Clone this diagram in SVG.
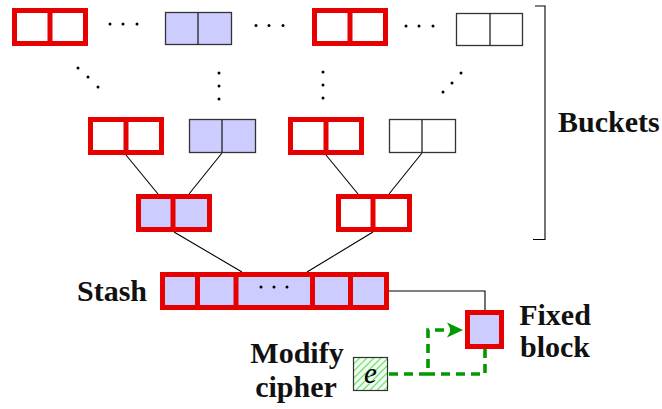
<svg xmlns="http://www.w3.org/2000/svg" width="662" height="409" viewBox="0 0 662 409">
<defs>
<style>
.red{fill:#fff;stroke:#e60000;stroke-width:5}
.redb{fill:#ccccff;stroke:#e60000;stroke-width:5}
.rdiv{stroke:#e60000;stroke-width:5}
.lb{fill:#ccccff;stroke:#333;stroke-width:1.3}
.lw{fill:#fff;stroke:#333;stroke-width:1.3}
.ldiv{stroke:#222;stroke-width:1.3}
.edge{stroke:#000;stroke-width:1.1;fill:none}
.dot{fill:#000}
.lbl{font-family:"Liberation Serif","Times New Roman",serif;font-weight:bold;font-size:30px;fill:#111}
.green{stroke:#009a00;stroke-width:3.6;fill:none;stroke-dasharray:9 6}
</style>
<pattern id="hatch" width="5" height="5" patternUnits="userSpaceOnUse" patternTransform="rotate(-45)">
<rect width="5" height="5" fill="#f4fff4"/>
<line x1="0" y1="2.5" x2="5" y2="2.5" stroke="#66dd66" stroke-width="1.2"/>
</pattern>
</defs>

<g id="connectors">
<line class="edge" x1="126" y1="155" x2="158" y2="194"/>
<line class="edge" x1="222" y1="153" x2="189" y2="194"/>
<line class="edge" x1="326" y1="155" x2="358" y2="194"/>
<line class="edge" x1="422" y1="153" x2="389" y2="194"/>
<line class="edge" x1="174" y1="232" x2="242" y2="272"/>
<line class="edge" x1="373" y1="232" x2="307" y2="272"/>
<path class="edge" d="M389,291 H485 V310"/>
<path class="green" d="M389,374 H428 V330 H452"/>
<path class="green" d="M485,349 V374 H428"/>
<polygon points="463,330 447,322.5 451,330 447,337.5" fill="#009a00"/>
</g>

<g id="r1-b1"><rect class="red" x="14.5" y="10.5" width="71" height="33"/><line class="rdiv" x1="50" y1="10" x2="50" y2="44"/></g>
<g id="r1-b2"><rect class="lb" x="165.5" y="12.5" width="66" height="32"/><line class="ldiv" x1="198" y1="12.5" x2="198" y2="44.5"/></g>
<g id="r1-b3"><rect class="red" x="314.5" y="10.5" width="71" height="33"/><line class="rdiv" x1="350" y1="10" x2="350" y2="44"/></g>
<g id="r1-b4"><rect class="lw" x="456.5" y="13.5" width="66" height="32"/><line class="ldiv" x1="490" y1="13.5" x2="490" y2="45.5"/></g>

<g id="r2-b1"><rect class="red" x="90.5" y="119.5" width="71" height="33"/><line class="rdiv" x1="126" y1="119" x2="126" y2="153"/></g>
<g id="r2-b2"><rect class="lb" x="189.5" y="119.5" width="66" height="33"/><line class="ldiv" x1="222" y1="119.5" x2="222" y2="152.5"/></g>
<g id="r2-b3"><rect class="red" x="290.5" y="119.5" width="71" height="33"/><line class="rdiv" x1="326" y1="119" x2="326" y2="153"/></g>
<g id="r2-b4"><rect class="lw" x="389.5" y="119.5" width="66" height="33"/><line class="ldiv" x1="422" y1="119.5" x2="422" y2="152.5"/></g>

<g id="r3-b1"><rect class="redb" x="138.5" y="196.5" width="71" height="33"/><line class="rdiv" x1="173" y1="196" x2="173" y2="230"/></g>
<g id="r3-b2"><rect class="red" x="338.5" y="196.5" width="71" height="33"/><line class="rdiv" x1="373" y1="196" x2="373" y2="230"/></g>

<g id="stash">
<rect class="redb" x="162.5" y="274.5" width="224" height="33"/>
<line class="rdiv" x1="197.5" y1="274" x2="197.5" y2="308"/>
<line class="rdiv" x1="236" y1="274" x2="236" y2="308"/>
<line class="rdiv" x1="312.5" y1="274" x2="312.5" y2="308"/>
<line class="rdiv" x1="350.5" y1="274" x2="350.5" y2="308"/>
<circle class="dot" cx="261" cy="287" r="1.5"/><circle class="dot" cx="274" cy="287" r="1.5"/><circle class="dot" cx="287" cy="287" r="1.5"/>
<text class="lbl" x="77" y="301">Stash</text>
</g>

<g id="fixed-block">
<rect class="redb" x="467.5" y="312.5" width="34" height="34"/>
<text class="lbl" x="555" y="325" text-anchor="middle">Fixed</text>
<text class="lbl" x="555" y="357" text-anchor="middle">block</text>
</g>

<g id="cipher">
<rect x="353.5" y="357.5" width="34" height="33" fill="url(#hatch)" stroke="#333" stroke-width="1.2"/>
<text x="370.5" y="383" text-anchor="middle" font-family="'Liberation Serif',serif" font-style="italic" font-size="29" fill="#000">e</text>
<text class="lbl" x="297" y="363" text-anchor="middle">Modify</text>
<text class="lbl" x="296" y="397" text-anchor="middle">cipher</text>
</g>

<g id="ellipses">
<circle class="dot" cx="110" cy="24" r="1.5"/><circle class="dot" cx="123" cy="24" r="1.5"/><circle class="dot" cx="137" cy="24" r="1.5"/>
<circle class="dot" cx="256" cy="25.5" r="1.5"/><circle class="dot" cx="269" cy="25.5" r="1.5"/><circle class="dot" cx="283" cy="25.5" r="1.5"/>
<circle class="dot" cx="406" cy="26" r="1.5"/><circle class="dot" cx="419" cy="26" r="1.5"/><circle class="dot" cx="433" cy="26" r="1.5"/>
<circle class="dot" cx="78" cy="68" r="1.5"/><circle class="dot" cx="88" cy="77" r="1.5"/><circle class="dot" cx="98" cy="87" r="1.5"/>
<circle class="dot" cx="219" cy="73" r="1.5"/><circle class="dot" cx="219" cy="86" r="1.5"/><circle class="dot" cx="219" cy="99" r="1.5"/>
<circle class="dot" cx="323" cy="72" r="1.5"/><circle class="dot" cx="323" cy="85" r="1.5"/><circle class="dot" cx="323" cy="98" r="1.5"/>
<circle class="dot" cx="461" cy="73" r="1.5"/><circle class="dot" cx="452" cy="83" r="1.5"/><circle class="dot" cx="443" cy="92" r="1.5"/>
</g>

<g id="buckets-brace">
<path class="edge" d="M535,6 H545 V239.5 H533"/>
<text class="lbl" x="558" y="132">Buckets</text>
</g>
</svg>
